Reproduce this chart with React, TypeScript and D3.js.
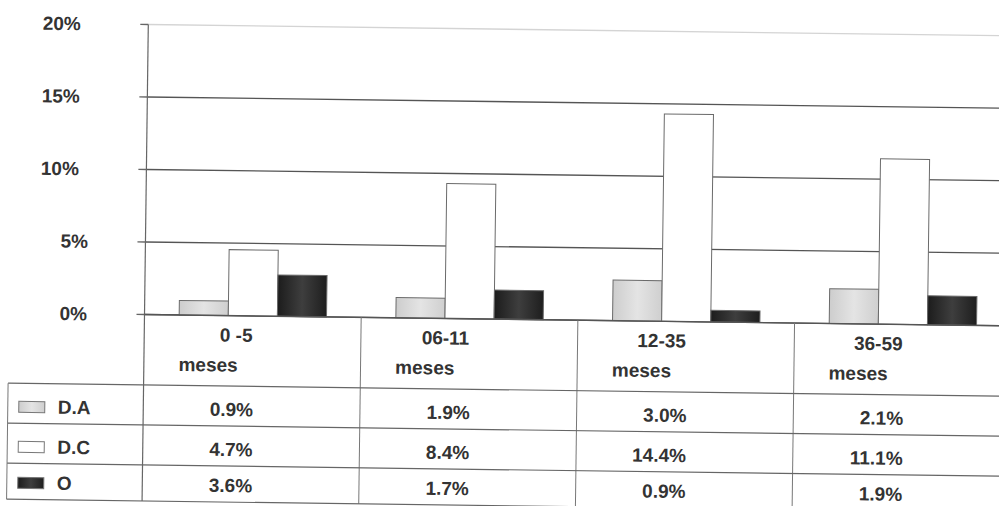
import React from 'react';
import * as d3 from 'd3';

// categories and series
const categories = ['0 -5', '06-11', '12-35', '36-59'];
const unitLabel = 'meses';
const seriesNames = ['D.A', 'D.C', 'O'];

// bar heights as drawn (percent)
const daBars = [1.0, 1.4, 2.8, 2.4];
const dcBars = [4.55, 9.3, 14.3, 11.4];
const oBars = [2.85, 2.0, 0.8, 2.0];

// values printed in the data table
const daTable = ['0.9%', '1.9%', '3.0%', '2.1%'];
const dcTable = ['4.7%', '8.4%', '14.4%', '11.1%'];
const oTable = ['3.6%', '1.7%', '0.9%', '1.9%'];

const yTicks = [0, 5, 10, 15, 20];

const W = 999;
const H = 506;
const origin = { x: 144.5, y: 314.5 };
const colStep = 216.7;
const plotRight = origin.x + colStep * categories.length;
const rowLines = [385, 425, 465, 501];
const legendLeft = 9;
const font = '"Liberation Sans", Arial, sans-serif';
const ink = '#333';

export default function App() {
	const y = d3.scaleLinear().domain([0, 20]).range([origin.y, 24.5]);
	const col = d3
		.scaleBand<string>()
		.domain(categories)
		.range([origin.x, plotRight]);
	const x0 = d3
		.scaleBand<string>()
		.domain(categories)
		.range([origin.x, plotRight])
		.paddingInner(0.32)
		.paddingOuter(0.16);
	const x1 = d3
		.scaleBand<string>()
		.domain(seriesNames)
		.range([0, x0.bandwidth()]);

	const barData = [daBars, dcBars, oBars];
	const tableData = [daTable, dcTable, oTable];
	const fills = ['url(#gDA)', '#ffffff', 'url(#gO)'];

	return (
		<svg
			width={W}
			height={H}
			style={{ position: 'absolute', left: 0, top: 0, background: '#fff' }}>
			<defs>
				<linearGradient id='gDA' x1='0' x2='1' y1='0' y2='0'>
					<stop offset='0' stopColor='#cdcdcd' />
					<stop offset='0.5' stopColor='#e4e4e4' />
					<stop offset='1' stopColor='#cfcfcf' />
				</linearGradient>
				<linearGradient id='gO' x1='0' x2='1' y1='0' y2='0'>
					<stop offset='0' stopColor='#1c1c1c' />
					<stop offset='0.5' stopColor='#3e3e3e' />
					<stop offset='1' stopColor='#1e1e1e' />
				</linearGradient>
			</defs>
			<g transform={`rotate(0.75, ${origin.x}, ${origin.y})`}>
				{/* gridlines + ticks */}
				{yTicks.map((t) => (
					<g key={t}>
						<line
							x1={origin.x}
							x2={1040}
							y1={y(t)}
							y2={y(t)}
							stroke={t === 20 ? '#d4d4d4' : '#555'}
							strokeWidth={1.3}
						/>
						<line
							x1={136.5}
							x2={origin.x}
							y1={y(t)}
							y2={y(t)}
							stroke='#666'
							strokeWidth={1.3}
						/>
						<text
							x={t < 10 ? 87 : 77}
							y={y(t)}
							dy='0.35em'
							textAnchor='end'
							fontFamily={font}
							fontWeight='bold'
							fontSize={19}
							fill={ink}>
							{t}%
						</text>
					</g>
				))}

				{/* bars */}
				{categories.map((c, i) => (
					<g key={c} transform={`translate(${x0(c)},0)`}>
						{seriesNames.map((s, k) => (
							<rect
								key={s}
								x={x1(s)}
								y={y(barData[k][i])}
								width={x1.bandwidth()}
								height={origin.y - y(barData[k][i])}
								fill={fills[k]}
								stroke='#6a6a6a'
								strokeWidth={1}
							/>
						))}
					</g>
				))}

				{/* axis / table frame */}
				<line
					x1={origin.x}
					x2={origin.x}
					y1={y(20)}
					y2={rowLines[3]}
					stroke='#666'
					strokeWidth={1.2}
				/>
				<line
					x1={origin.x}
					x2={1040}
					y1={origin.y}
					y2={origin.y}
					stroke='#555'
					strokeWidth={1.4}
				/>
				{categories.map((c, i) => (
					<line
						key={c}
						x1={col(c)! + colStep}
						x2={col(c)! + colStep}
						y1={origin.y}
						y2={rowLines[3]}
						stroke='#777'
						strokeWidth={1}
					/>
				))}
				{rowLines.map((ry) => (
					<line
						key={ry}
						x1={legendLeft}
						x2={1040}
						y1={ry}
						y2={ry}
						stroke='#666'
						strokeWidth={1.2}
					/>
				))}
				<line
					x1={legendLeft}
					x2={legendLeft}
					y1={rowLines[0]}
					y2={rowLines[3]}
					stroke='#777'
					strokeWidth={1}
				/>

				{/* category header */}
				{categories.map((c) => (
					<g
						key={c}
						fontFamily={font}
						fontWeight='bold'
						fontSize={19}
						fill={ink}>
						<text
							x={col(c)! + col.bandwidth() / 2}
							y={340.5}
							textAnchor='end'>
							{c}
						</text>
						<text x={x0(c)!} y={370.5}>
							{unitLabel}
						</text>
					</g>
				))}

				{/* legend rows + values */}
				{seriesNames.map((s, k) => {
					const base = rowLines[k + 1] - 10;
					return (
						<g
							key={s}
							fontFamily={font}
							fontWeight='bold'
							fontSize={19}
							fill={ink}>
							<rect
								x={20}
								y={base - 12}
								width={26}
								height={11}
								fill={fills[k]}
								stroke='#777'
								strokeWidth={1}
							/>
							<text x={59} y={base}>
								{s}
							</text>
							{categories.map((c, i) => (
								<text
									key={c}
									x={col(c)! + col.bandwidth() / 2 + 1.5}
									y={base}
									textAnchor='end'>
									{tableData[k][i]}
								</text>
							))}
						</g>
					);
				})}
			</g>
		</svg>
	);
}
